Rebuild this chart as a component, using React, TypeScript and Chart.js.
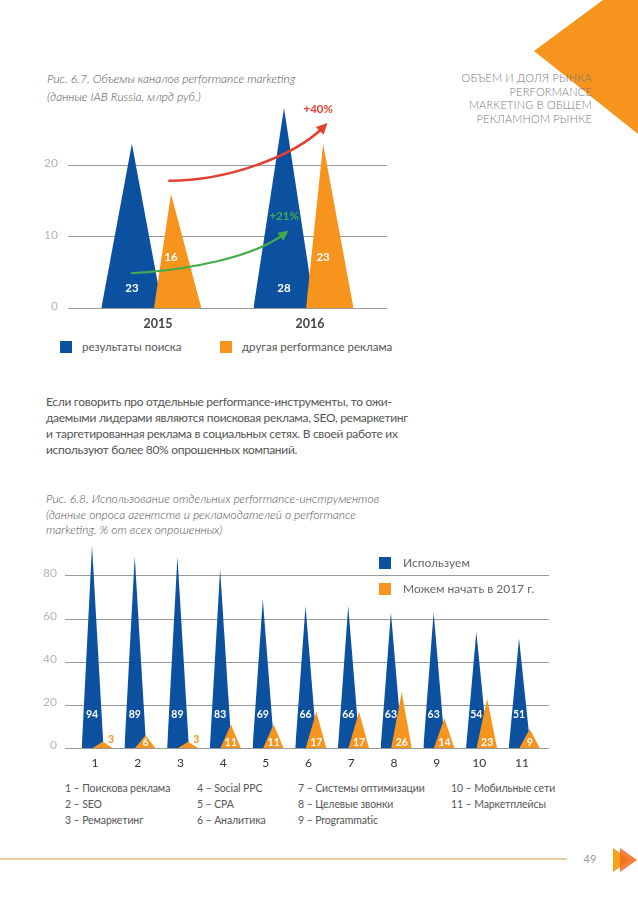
import React, { useEffect, useRef } from "react";
import { Chart, registerables } from "chart.js";

Chart.register(...registerables);

// ---------- data: figure 6.7 ----------
const years = ["2015", "2016"];
const searchResults = [23, 28];
const otherPerformance = [16, 23];
const growthRed = "+40%";
const growthGreen = "+21%";
const volumeTicks = [0, 10, 20];
const volumeLegend = ["результаты поиска", "другая performance реклама"];

// ---------- data: figure 6.8 ----------
const tools = ["1", "2", "3", "4", "5", "6", "7", "8", "9", "10", "11"];
const usingNow = [94, 89, 89, 83, 69, 66, 66, 63, 63, 54, 51];
const canStart2017 = [3, 6, 3, 11, 11, 17, 17, 26, 14, 23, 9];
const usageTicks = [0, 20, 40, 60, 80];
const usageLegend = ["Используем", "Можем начать в 2017 г."];
const toolNamesCol1 = ["1 – Поискова реклама", "2 – SEO", "3 – Ремаркетинг"];
const toolNamesCol2 = ["4 – Social PPC", "5 – CPA", "6 – Аналитика"];
const toolNamesCol3 = ["7 – Системы оптимизации", "8 – Целевые звонки", "9 – Programmatic"];
const toolNamesCol4 = ["10 – Мобильные сети", "11 – Маркетплейсы"];

const BLUE = "#0c50a0";
const ORANGE = "#f7941e";
const FONT = "Lato, 'Open Sans', sans-serif";

type Shape = { left: number; apex: number; right: number };

function triangle(center: number, value: number, s: Shape, color: string, order: number) {
  return {
    data: [
      { x: center + s.left, y: 0 },
      { x: center + s.apex, y: value },
      { x: center + s.right, y: 0 },
    ],
    backgroundColor: color,
    borderColor: color,
    borderWidth: 0,
    pointRadius: 0,
    pointHoverRadius: 0,
    tension: 0,
    fill: "origin",
    order,
  };
}

const vBlue: Shape = { left: -0.372, apex: -0.171, right: 0.03 };
const vOrange: Shape = { left: -0.026, apex: 0.086, right: 0.286 };
const uBlue: Shape = { left: -0.311, apex: -0.07, right: 0.2 };
const uOrange: Shape = { left: -0.066, apex: 0.183, right: 0.417 };

function drawArrow(
  ctx: CanvasRenderingContext2D,
  pts: number[][],
  color: string,
  width: number,
  head: number
) {
  const [p0, p1, p2, p3] = pts;
  ctx.save();
  ctx.strokeStyle = color;
  ctx.fillStyle = color;
  ctx.lineWidth = width;
  ctx.lineCap = "round";
  const dx = p3[0] - p2[0];
  const dy = p3[1] - p2[1];
  const len = Math.hypot(dx, dy) || 1;
  const ux = dx / len;
  const uy = dy / len;
  ctx.beginPath();
  ctx.moveTo(p0[0], p0[1]);
  ctx.bezierCurveTo(p1[0], p1[1], p2[0], p2[1], p3[0] - ux * head * 0.6, p3[1] - uy * head * 0.6);
  ctx.stroke();
  const bx = p3[0] - ux * head;
  const by = p3[1] - uy * head;
  const nx = -uy;
  const ny = ux;
  ctx.beginPath();
  ctx.moveTo(p3[0], p3[1]);
  ctx.lineTo(bx + nx * head * 0.5, by + ny * head * 0.5);
  ctx.lineTo(bx - nx * head * 0.5, by - ny * head * 0.5);
  ctx.closePath();
  ctx.fill();
  ctx.restore();
}

const volumePlugin = {
  id: "volumeLabels",
  afterDatasetsDraw(chart: any) {
    const { ctx, scales } = chart;
    const x = scales.x;
    const y = scales.y;
    const P = (a: number, b: number) => [x.getPixelForValue(a), y.getPixelForValue(b)];
    ctx.save();
    ctx.font = `bold 11.5px ${FONT}`;
    ctx.fillStyle = "#ffffff";
    ctx.textAlign = "center";
    ctx.textBaseline = "middle";
    searchResults.forEach((v, i) => {
      const [px, py] = P(i + vBlue.apex, 2.85);
      ctx.fillText(String(v), px, py);
    });
    otherPerformance.forEach((v, i) => {
      const [px, py] = P(i + vOrange.apex, 7.2);
      ctx.fillText(String(v), px, py);
    });
    ctx.restore();
    drawArrow(
      ctx,
      [P(0.075, 17.85), P(0.453, 17.85), P(0.891, 21.2), P(1.115, 25.9)],
      "#e2412f",
      2.5,
      11
    );
    drawArrow(
      ctx,
      [P(-0.172, 4.9), P(0.212, 5.36), P(0.628, 7.2), P(0.858, 10.85)],
      "#41ad4a",
      2.2,
      10
    );
    ctx.save();
    ctx.font = `bold 11.5px ${FONT}`;
    ctx.textAlign = "center";
    ctx.textBaseline = "middle";
    ctx.fillStyle = "#e2412f";
    const [rx, ry] = P(1.054, 27.9);
    ctx.fillText(growthRed, rx, ry);
    ctx.fillStyle = "#41ad4a";
    const [gx, gy] = P(0.83, 12.8);
    ctx.fillText(growthGreen, gx, gy);
    ctx.restore();
  },
};

const usagePlugin = {
  id: "usageLabels",
  afterDatasetsDraw(chart: any) {
    const { ctx, scales } = chart;
    const x = scales.x;
    const y = scales.y;
    ctx.save();
    ctx.font = `bold 10.5px ${FONT}`;
    ctx.textAlign = "center";
    ctx.textBaseline = "middle";
    ctx.fillStyle = "#ffffff";
    usingNow.forEach((v, i) => {
      ctx.fillText(String(v), x.getPixelForValue(i + 1 + uBlue.apex), y.getPixelForValue(15.8));
    });
    canStart2017.forEach((v, i) => {
      if (v < 5) {
        ctx.fillStyle = ORANGE;
        ctx.fillText(String(v), x.getPixelForValue(i + 1 + uOrange.apex + 0.19), y.getPixelForValue(4.2));
      } else {
        ctx.fillStyle = "#ffffff";
        ctx.fillText(String(v), x.getPixelForValue(i + 1 + uOrange.apex), y.getPixelForValue(2.6));
      }
    });
    ctx.restore();
  },
};

function fixX(h: number) {
  return (s: any) => {
    s.height = h;
    s.paddingLeft = 0;
    s.paddingRight = 0;
  };
}
function fixY(w: number) {
  return (s: any) => {
    s.width = w;
    s.paddingTop = 0;
    s.paddingBottom = 0;
  };
}

function volumeConfig(): any {
  const datasets: any[] = [];
  otherPerformance.forEach((v, i) => datasets.push(triangle(i, v, vOrange, ORANGE, 0)));
  searchResults.forEach((v, i) => datasets.push(triangle(i, v, vBlue, BLUE, 1)));
  return {
    type: "line",
    data: { datasets },
    options: {
      responsive: false,
      animation: false,
      events: [],
      layout: { padding: { top: 9.8, right: 3, left: 0, bottom: 0 } },
      plugins: { legend: { display: false }, tooltip: { enabled: false } },
      scales: {
        x: {
          type: "linear",
          min: -0.591,
          max: 1.506,
          grid: { display: false, drawTicks: false },
          border: { display: false },
          afterBuildTicks: (s: any) => {
            s.ticks = years.map((_, i) => ({ value: i }));
          },
          afterFit: fixX(29.7),
          ticks: {
            autoSkip: false,
            maxRotation: 0,
            padding: 7.8,
            color: "#444444",
            font: { family: FONT, size: 12.5, weight: "bold" },
            callback: (v: any) => years[v],
          },
        },
        y: {
          type: "linear",
          min: 0,
          max: 30,
          grid: { color: "#9a9a9a", lineWidth: 1, drawTicks: false },
          border: { display: false },
          afterBuildTicks: (s: any) => {
            s.ticks = volumeTicks.map((v) => ({ value: v }));
          },
          afterFit: fixY(28),
          ticks: {
            padding: 10,
            labelOffset: -2,
            color: "#b4b4b4",
            font: { family: FONT, size: 12 },
          },
        },
      },
    },
    plugins: [volumePlugin],
  };
}

function usageConfig(): any {
  const datasets: any[] = [];
  canStart2017.forEach((v, i) => datasets.push(triangle(i + 1, v, uOrange, ORANGE, 0)));
  usingNow.forEach((v, i) => datasets.push(triangle(i + 1, v, uBlue, BLUE, 1)));
  return {
    type: "line",
    data: { datasets },
    options: {
      responsive: false,
      animation: false,
      events: [],
      layout: { padding: { top: 9.6, right: 3, left: 0, bottom: 0 } },
      plugins: { legend: { display: false }, tooltip: { enabled: false } },
      scales: {
        x: {
          type: "linear",
          min: 0.297,
          max: 11.632,
          grid: { display: false, drawTicks: false },
          border: { display: false },
          afterBuildTicks: (s: any) => {
            s.ticks = tools.map((_, i) => ({ value: i + 1 }));
          },
          afterFit: fixX(26.7),
          ticks: {
            autoSkip: false,
            maxRotation: 0,
            padding: 7.8,
            color: "#333333",
            font: { family: FONT, size: 12 },
            callback: (v: any) => tools[v - 1],
          },
        },
        y: {
          type: "linear",
          min: 0,
          max: 95,
          grid: { color: "#9a9a9a", lineWidth: 1, drawTicks: false },
          border: { display: false },
          afterBuildTicks: (s: any) => {
            s.ticks = usageTicks.map((v) => ({ value: v }));
          },
          afterFit: fixY(25),
          ticks: {
            padding: 8,
            labelOffset: -3,
            color: "#b4b4b4",
            font: { family: FONT, size: 12 },
          },
        },
      },
    },
    plugins: [usagePlugin],
  };
}

const abs = (left: number, top: number, extra: React.CSSProperties = {}): React.CSSProperties => ({
  position: "absolute",
  left,
  top,
  whiteSpace: "nowrap",
  ...extra,
});

export default function App() {
  const c1 = useRef<HTMLCanvasElement>(null);
  const c2 = useRef<HTMLCanvasElement>(null);

  useEffect(() => {
    const ch1 = new Chart(c1.current as HTMLCanvasElement, volumeConfig());
    const ch2 = new Chart(c2.current as HTMLCanvasElement, usageConfig());
    return () => {
      ch1.destroy();
      ch2.destroy();
    };
  }, []);

  const caption: React.CSSProperties = {
    fontFamily: FONT,
    fontStyle: "italic",
    fontWeight: 300,
    fontSize: 12,
    color: "#505050",
  };
  const small: React.CSSProperties = { fontFamily: FONT, fontSize: 11.5, color: "#555", lineHeight: "16px" };

  return (
    <div
      style={{
        position: "absolute",
        left: 0,
        top: 0,
        width: 638,
        height: 903,
        overflow: "hidden",
        background: "#ffffff",
        fontFamily: FONT,
      }}
    >
      <svg width={638} height={903} style={{ position: "absolute", left: 0, top: 0 }}>
        <polygon points="603,0 638,0 638,134 534,51" fill={ORANGE} />
        <line x1={0} y1={859} x2={567} y2={859} stroke="#dcbc82" strokeWidth={1.5} />
        <polygon points="613,848 630,860 613,872" fill="#f9a01b" />
        <polygon points="620,848 637,860 620,872" fill="#f26b1d" opacity={0.85} />
      </svg>

      {/* header */}
      <div
        style={abs(0, 71, {
          width: 592,
          textAlign: "right",
          fontSize: 11,
          lineHeight: "13.7px",
          color: "#777",
          letterSpacing: 0.2,
          fontWeight: 300,
        })}
      >
        ОБЪЕМ И ДОЛЯ РЫНКА
        <br />
        PERFORMANCE
        <br />
        MARKETING В ОБЩЕМ
        <br />
        РЕКЛАМНОМ РЫНКЕ
      </div>

      {/* figure 6.7 caption */}
      <div style={abs(47, 70, { ...caption, lineHeight: "17.5px" })}>
        Рис. 6.7. Объемы каналов performance marketing
        <br />
        (данные IAB Russia, млрд руб.)
      </div>

      <canvas ref={c1} width={350} height={254} style={abs(40, 84, { width: 350, height: 254 })} />

      {/* figure 6.7 legend */}
      <div style={abs(60, 341, { width: 12, height: 12, background: BLUE })} />
      <div style={abs(82, 339, { ...small })}>{volumeLegend[0]}</div>
      <div style={abs(220, 341, { width: 12, height: 12, background: ORANGE })} />
      <div style={abs(242, 339, { ...small })}>{volumeLegend[1]}</div>

      {/* paragraph */}
      <div style={abs(46, 394, { fontSize: 12, letterSpacing: -0.3, lineHeight: "16px", color: "#555" })}>
        Если говорить про отдельные performance-инструменты, то ожи-
        <br />
        даемыми лидерами являются поисковая реклама, SEO, ремаркетинг
        <br />и таргетированная реклама в социальных сетях. В своей работе их
        <br />
        используют более 80% опрошенных компаний.
      </div>

      {/* figure 6.8 caption */}
      <div style={abs(46, 491, { ...caption, lineHeight: "15.5px" })}>
        Рис. 6.8. Использование отдельных performance-инструментов
        <br />
        (данные опроса агентств и рекламодателей о performance
        <br />
        marketing, % от всех опрошенных)
      </div>

      <canvas ref={c2} width={512} height={241} style={abs(40, 534, { width: 512, height: 241 })} />

      {/* figure 6.8 legend */}
      <div style={abs(379, 557, { width: 12, height: 12, background: BLUE })} />
      <div style={abs(403, 555, { fontSize: 12, lineHeight: "16px", color: "#666" })}>{usageLegend[0]}</div>
      <div style={abs(379, 583, { width: 12, height: 12, background: ORANGE })} />
      <div style={abs(403, 581, { fontSize: 12, lineHeight: "16px", color: "#666" })}>{usageLegend[1]}</div>

      {/* tool names */}
      {[toolNamesCol1, toolNamesCol2, toolNamesCol3, toolNamesCol4].map((col, ci) => (
        <div
          key={ci}
          style={abs([65, 197, 298, 451][ci], 780, {
            fontSize: 10.5,
            letterSpacing: -0.1,
            lineHeight: "16px",
            color: "#555",
          })}
        >
          {col.map((t, i) => (
            <div key={i}>{t}</div>
          ))}
        </div>
      ))}

      {/* page number */}
      <div style={abs(580, 851, { width: 20, textAlign: "center", fontSize: 11, lineHeight: "16px", color: "#9a9a9a" })}>
        49
      </div>
    </div>
  );
}
